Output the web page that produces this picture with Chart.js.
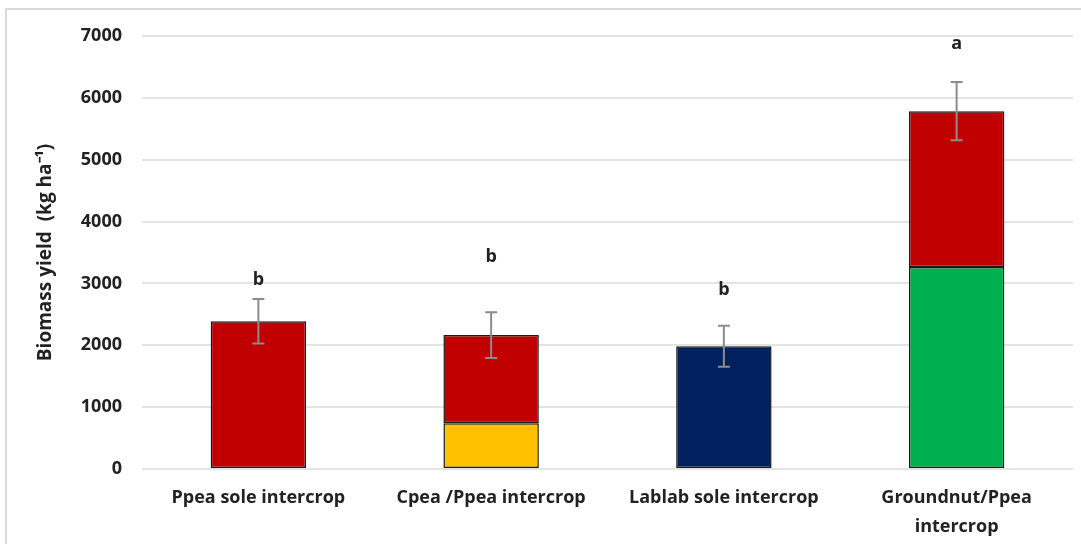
<!DOCTYPE html>
<html>
<head>
<meta charset="utf-8">
<script src="https://cdn.jsdelivr.net/npm/chart.js@4"></script>
<style>
  html, body { margin: 0; padding: 0; background: #fff; }
  #wrap { width: 1081px; height: 544px; position: relative; }
</style>
</head>
<body>
<div id="wrap"><canvas id="chart-bar"></canvas></div>
<script>
// categories
var crops = ["Ppea sole intercrop", "Cpea /Ppea intercrop", "Lablab sole intercrop", ["Groundnut/Ppea", "intercrop"]];

// biomass per component (kg/ha), bottom to top
var cpea = [null, 740, null, null];
var lablab = [null, null, 1985, null];
var groundnut = [null, null, null, 3265];
var ppea = [2390, 1425, null, 2520];

// standard error on the total, and the letters of the mean separation
var stdErr = [360, 370, 330, 470];
var letters = ["b", "b", "b", "a"];
var letterAt = [3050, 3430, 2890, 6870];

var yTicks = [0, 1000, 2000, 3000, 4000, 5000, 6000, 7000];

var font = "'Open Sans', sans-serif";

var frame = {
    id: 'frame',
    beforeDraw: function(chart) {
        var c = chart.ctx;
        c.save();
        c.fillStyle = '#fff';
        c.fillRect(0, 0, chart.width, chart.height);
        c.strokeStyle = '#d9d9d9';
        c.lineWidth = 2;
        c.beginPath();
        c.moveTo(6, chart.height);
        c.lineTo(6, 9);
        c.lineTo(chart.width, 9);
        c.stroke();
        c.restore();
    }
};

var errBars = {
    id: 'errBars',
    afterDatasetsDraw: function(chart) {
        var c = chart.ctx;
        var x = chart.scales.x, y = chart.scales.y;
        c.save();
        for (var i = 0; i < crops.length; i++) {
            var tot = (cpea[i] || 0) + (lablab[i] || 0) + (groundnut[i] || 0) + (ppea[i] || 0);
            var px = x.getPixelForValue(i);
            var hi = y.getPixelForValue(tot + stdErr[i]);
            var lo = y.getPixelForValue(tot - stdErr[i]);
            c.strokeStyle = '#8c8c8c';
            c.lineWidth = 2;
            c.beginPath();
            c.moveTo(px, hi); c.lineTo(px, lo);
            c.moveTo(px - 6, hi); c.lineTo(px + 6, hi);
            c.moveTo(px - 6, lo); c.lineTo(px + 6, lo);
            c.stroke();

            c.fillStyle = '#222';
            c.font = "bold 18px " + font;
            c.textAlign = 'center';
            c.textBaseline = 'middle';
            c.fillText(letters[i], px, y.getPixelForValue(letterAt[i]));
        }
        c.restore();
    }
};

function ds(label, data, color) {
    return {
        label: label,
        data: data,
        backgroundColor: color,
        borderColor: '#1a1a1a',
        borderWidth: 1.5,
        borderSkipped: false,
        stack: 's'
    };
}

const ctx = document.getElementById('chart-bar').getContext('2d');
const myChart = new Chart(ctx, {
    type: 'bar',
    data: {
        labels: crops,
        datasets: [
            ds('Cpea', cpea, '#FFC000'),
            ds('Lablab', lablab, '#002060'),
            ds('Groundnut', groundnut, '#00B050'),
            ds('Ppea', ppea, '#C00000')
        ]
    },
    plugins: [frame, errBars],
    options: {
        responsive: true,
        maintainAspectRatio: false,
        animation: false,
        categoryPercentage: 1,
        barPercentage: 0.41,
        layout: { padding: { top: 36, right: 8, left: 0, bottom: 0 } },
        plugins: {
            legend: { display: false },
            tooltip: { enabled: false }
        },
        scales: {
            x: {
                stacked: true,
                grid: { display: false },
                border: { display: false },
                ticks: {
                    color: '#222',
                    padding: 6,
                    maxRotation: 0,
                    font: { family: font, size: 18, weight: 'bold', lineHeight: 1.62 }
                },
                afterFit: function(s) { s.height = 75; }
            },
            y: {
                stacked: true,
                min: 0,
                max: 7000,
                afterBuildTicks: function(s) {
                    s.ticks = yTicks.map(function(v) { return { value: v }; });
                },
                grid: { color: '#e3e3e3', lineWidth: 2, drawTicks: false },
                border: { display: false },
                ticks: {
                    color: '#222',
                    padding: 20,
                    font: { family: font, size: 18, weight: 'bold' },
                    callback: function(v) { return String(v); }
                },
                title: {
                    display: true,
                    text: 'Biomass yield  (kg ha\u207B\u00B9)',
                    color: '#222',
                    padding: { top: 34, bottom: 0 },
                    font: { family: font, size: 19, weight: 'bold' }
                },
                afterFit: function(s) { s.width = 142; }
            }
        }
    }
});
</script>
</body>
</html>
